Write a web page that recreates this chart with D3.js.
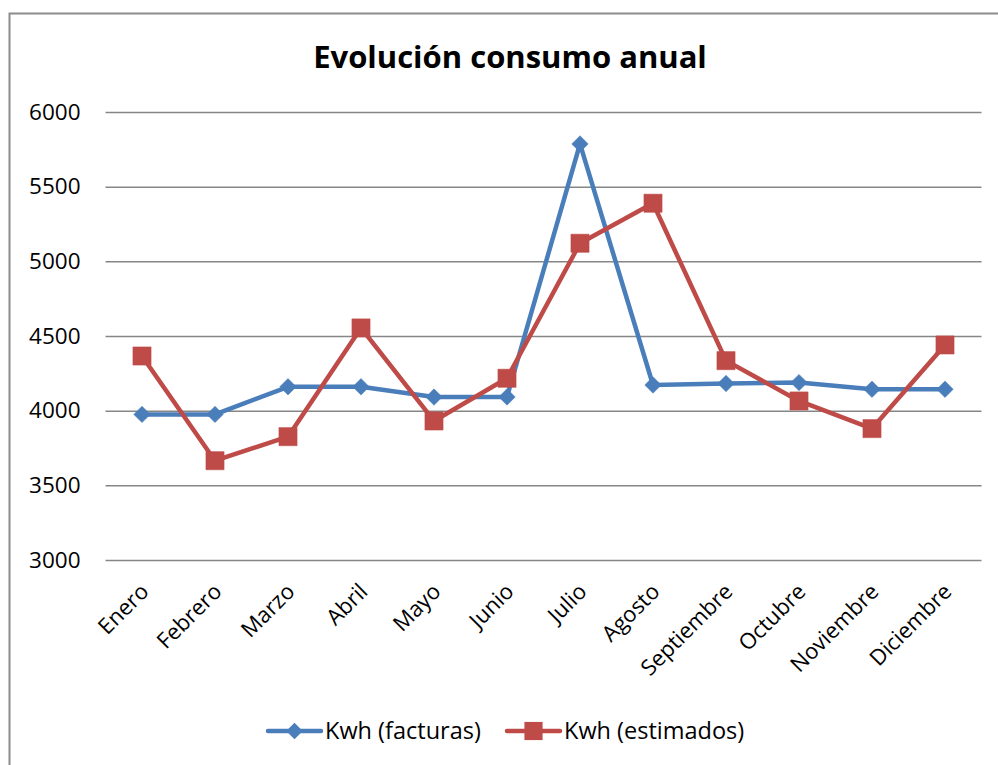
<!DOCTYPE html>
<html>
<head>
<meta charset="utf-8">
<script src="https://cdn.jsdelivr.net/npm/d3@7"></script>
<style>
  html, body { margin: 0; padding: 0; background: #fff; }
  svg { display: block; }
  text { font-family: "Open Sans", "DejaVu Sans", sans-serif; fill: #000; }
</style>
</head>
<body>
<svg id="chart" width="998" height="765"></svg>
<script>
// Monthly consumption (kWh): billed vs. estimated
const months = ["Enero", "Febrero", "Marzo", "Abril", "Mayo", "Junio",
  "Julio", "Agosto", "Septiembre", "Octubre", "Noviembre", "Diciembre"];
const facturas = [3975, 3975, 4160, 4160, 4091, 4092, 5786, 4172, 4182, 4188, 4143, 4143];
const estimados = [4366, 3665, 3826, 4554, 3931, 4217, 5121, 5389, 4335, 4065, 3880, 4440];
const yTicks = [3000, 3500, 4000, 4500, 5000, 5500, 6000];
const seriesNames = ["Kwh (facturas)", "Kwh (estimados)"];

const blue = "#4a7ebb";
const red = "#be4b48";

const svg = d3.select("#chart");

// outer chart frame
svg.append("rect")
  .attr("x", 9.5).attr("y", 13.5)
  .attr("width", 1000).attr("height", 800)
  .attr("fill", "none").attr("stroke", "#8c8c8c").attr("stroke-width", 2);

const plot = { left: 105.5, right: 981.5, top: 112, bottom: 560 };

const x = d3.scaleBand().domain(months).range([plot.left, plot.right]);
const y = d3.scaleLinear().domain([3000, 6000]).range([plot.bottom, plot.top]);

// title
svg.append("text")
  .attr("x", 510).attr("y", 68)
  .attr("text-anchor", "middle")
  .style("font-size", "31px").style("font-weight", "bold")
  .text("Evolución consumo anual");

// horizontal gridlines + y labels
const yAxis = d3.axisLeft(y).tickValues(yTicks).tickFormat(d3.format("d"))
  .tickSize(-(plot.right - plot.left)).tickPadding(25);
const gy = svg.append("g").attr("transform", `translate(${plot.left},0)`).call(yAxis);
gy.select(".domain").remove();
gy.selectAll(".tick line").attr("stroke", "#868686").attr("stroke-width", 1.5);
gy.selectAll(".tick text").style("font-size", "22.5px").attr("fill", "#000");

// x labels, rotated
const xAxis = d3.axisBottom(x).tickSize(0).tickPadding(0);
const gx = svg.append("g").attr("transform", `translate(0,${plot.bottom})`).call(xAxis);
gx.select(".domain").remove();
gx.selectAll(".tick text")
  .style("font-size", "22px")
  .attr("fill", "#000")
  .attr("text-anchor", "end")
  .attr("dy", null)
  .attr("transform", "translate(8,33) rotate(-45)");

// series lines and markers
const line = d3.line().x((d, i) => x(months[i]) + x.bandwidth() / 2).y(d => y(d));

function drawSeries(values, color, shape) {
  svg.append("path").datum(values)
    .attr("d", line)
    .attr("fill", "none").attr("stroke", color)
    .attr("stroke-width", 4.5).attr("stroke-linejoin", "round");
  const sym = d3.symbol().type(d3.symbolSquare).size(shape === "diamond" ? 135 : 330);
  svg.append("g").selectAll("path").data(values).join("path")
    .attr("d", sym)
    .attr("transform", (d, i) => `translate(${x(months[i]) + x.bandwidth() / 2},${y(d)})` + (shape === "diamond" ? " rotate(45)" : ""))
    .attr("fill", color)
    .attr("stroke", color).attr("stroke-width", 0.5);
}
drawSeries(facturas, blue, "diamond");
drawSeries(estimados, red, "square");

// legend
const legend = [
  { name: seriesNames[0], color: blue, shape: "diamond", x0: 268 },
  { name: seriesNames[1], color: red, shape: "square", x0: 507 }
];
const ly = 731;
legend.forEach(l => {
  const g = svg.append("g");
  g.append("line").attr("x1", l.x0).attr("x2", l.x0 + 53)
    .attr("y1", ly).attr("y2", ly)
    .attr("stroke", l.color).attr("stroke-width", 4.5).attr("stroke-linecap", "round");
  g.append("path")
    .attr("d", d3.symbol().type(d3.symbolSquare).size(l.shape === "diamond" ? 135 : 330))
    .attr("transform", `translate(${l.x0 + 26.5},${ly})` + (l.shape === "diamond" ? " rotate(45)" : ""))
    .attr("fill", l.color);
  g.append("text").attr("x", l.x0 + 57).attr("y", ly + 8)
    .style("font-size", "23.5px").text(l.name);
});
</script>
</body>
</html>
